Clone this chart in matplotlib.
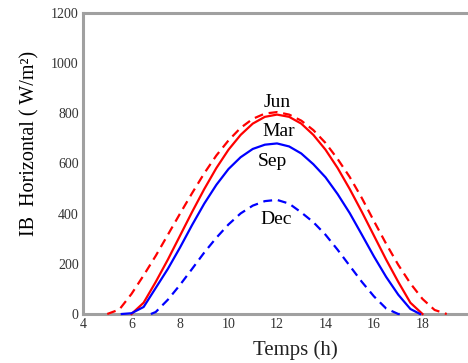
import matplotlib
matplotlib.use("Agg")
import matplotlib.pyplot as plt

# Hourly (half-hour) beam irradiance on a horizontal plane, W/m²
hours_jun = [5.0, 5.5, 6.0, 6.5, 7.0, 7.5, 8.0, 8.5, 9.0, 9.5, 10.0, 10.5, 11.0, 11.5,
             12.0, 12.5, 13.0, 13.5, 14.0, 14.5, 15.0, 15.5, 16.0, 16.5, 17.0, 17.5,
             18.0, 18.5, 19.0]
ib_jun = [0, 18, 80, 154, 232, 316, 400, 482, 561, 632, 692, 742, 778, 799,
          805, 795, 771, 733, 682, 618, 546, 462, 370, 280, 196, 122,
          60, 16, 0]

hours_mar = [6.0, 6.5, 7.0, 7.5, 8.0, 8.5, 9.0, 9.5, 10.0, 10.5, 11.0, 11.5,
             12.0, 12.5, 13.0, 13.5, 14.0, 14.5, 15.0, 15.5, 16.0, 16.5, 17.0,
             17.5, 18.0]
ib_mar = [0, 45, 128, 217, 312, 407, 498, 582, 655, 714, 759, 786,
          795, 786, 759, 714, 655, 582, 498, 407, 312, 217, 128,
          45, 0]

hours_sep = [5.6, 6.0, 6.5, 7.0, 7.5, 8.0, 8.5, 9.0, 9.5, 10.0, 10.5, 11.0, 11.5,
             12.0, 12.5, 13.0, 13.5, 14.0, 14.5, 15.0, 15.5, 16.0, 16.5, 17.0,
             17.5, 17.9]
ib_sep = [0, 3, 28, 104, 180, 265, 355, 440, 515, 578, 625, 658, 675,
          680, 668, 640, 597, 545, 478, 402, 316, 229, 148, 77,
          20, 0]

hours_dec = [6.8, 7.0, 7.5, 8.0, 8.5, 9.0, 9.5, 10.0, 10.5, 11.0, 11.5, 12.0,
             12.5, 13.0, 13.5, 14.0, 14.5, 15.0, 15.5, 16.0, 16.5, 17.0, 17.2]
ib_dec = [0, 8, 57, 116, 180, 245, 304, 357, 401, 432, 450, 455,
          440, 405, 366, 316, 256, 192, 128, 70, 22, 0, 0]

month_labels = ["Jun", "Mar", "Sep", "Dec"]
label_pos = [(12.02, 845), (12.06, 728), (11.81, 608), (11.98, 376)]

x_ticks = [4, 6, 8, 10, 12, 14, 16, 18]
y_ticks = [0, 200, 400, 600, 800, 1000, 1200]

serif = ["Liberation Serif", "DejaVu Serif"]

fig = plt.figure(figsize=(4.68, 3.63), dpi=100)
ax = fig.add_axes([83 / 468, 49 / 363, 388 / 468, 301 / 363])

dash = (4, 2.6)
ax.plot(hours_jun, ib_jun, color="#ff0000", lw=1.6, ls=(0, dash), zorder=3, clip_on=False)
ax.plot(hours_mar, ib_mar, color="#ff0000", lw=1.6, zorder=3, clip_on=False)
ax.plot(hours_sep, ib_sep, color="#0000ff", lw=1.6, zorder=3, clip_on=False)
ax.plot(hours_dec, ib_dec, color="#0000ff", lw=1.6, ls=(0, dash), zorder=3, clip_on=False)

for name, (lx, ly) in zip(month_labels, label_pos):
    ax.text(lx, ly, name, ha="center", va="center", fontsize=14,
            family=serif, color="black")

ax.set_xlim(4, 20)
ax.set_ylim(0, 1200)
ax.set_xticks(x_ticks)
ax.set_yticks(y_ticks)
ax.tick_params(length=0, labelsize=10, labelcolor="#333333", pad=3)
for lab in ax.get_xticklabels() + ax.get_yticklabels():
    lab.set_family(serif)

for side in ["left", "bottom", "top", "right"]:
    ax.spines[side].set_color("#a0a0a0")
    ax.spines[side].set_linewidth(2.2)
    ax.spines[side].set_zorder(2)

ax.set_ylabel("IB  Horizontal ( W/m²)", fontsize=14.5, family=serif)
ax.yaxis.set_label_coords(-44 / 388, (314 - 143) / 301)
fig.text(295 / 468, 1 - 350 / 363, "Temps (h)", ha="center", va="center",
         fontsize=15, family=serif, color="#222222")

fig.savefig("out.png", dpi=100)
